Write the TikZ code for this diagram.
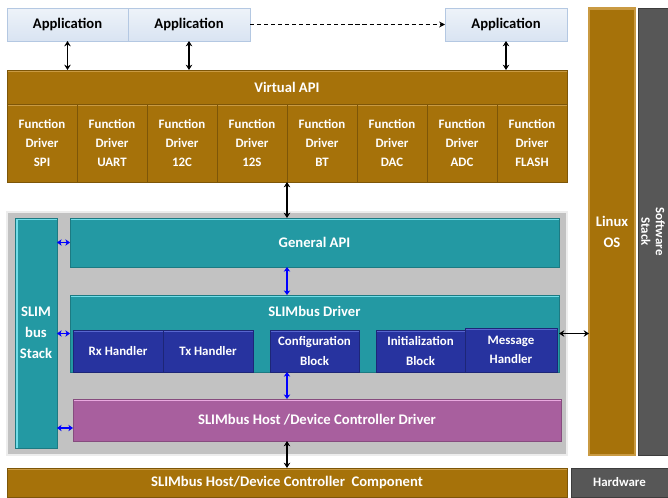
\documentclass[tikz,border=0pt]{standalone}
\usepackage{fontspec}
\setmainfont{Carlito}
\usetikzlibrary{arrows.meta,shadows,calc}

\definecolor{appblue}{HTML}{D9E4F2}
\definecolor{appedge}{HTML}{B4C8E2}
\definecolor{bronze}{HTML}{A6720A}
\definecolor{bronzelight}{HTML}{C99A42}
\definecolor{tealbox}{HTML}{2399A3}
\definecolor{teallight}{HTML}{72DDE8}
\definecolor{navybox}{HTML}{27339F}
\definecolor{navylight}{HTML}{5866CF}
\definecolor{plum}{HTML}{A85F9E}
\definecolor{plumlight}{HTML}{E9A9DF}
\definecolor{panel}{HTML}{C2C2C2}
\definecolor{slate}{HTML}{575757}

\tikzset{
  px/.style 2 args={minimum width=#1*0.03cm, minimum height=#2*0.03cm},
  bigtext/.style={font=\bfseries\fontsize{12.5}{18}\selectfont},
  smalltext/.style={font=\bfseries\fontsize{11}{16.5}\selectfont},
  blk/.style={inner sep=0pt, outer sep=0pt, align=center, text=white, bigtext,
    drop shadow={shadow xshift=1pt, shadow yshift=-1pt, opacity=0.4}},
  tophl/.style={path picture={\fill[#1] (path picture bounding box.north west)
    rectangle ([yshift=-1.6pt]path picture bounding box.north east);}},
  lefthl/.style={path picture={\fill[#1] (path picture bounding box.north west)
    rectangle ([xshift=2.4pt]path picture bounding box.south west);
    \fill[#1] (path picture bounding box.north west)
    rectangle ([yshift=-1.6pt]path picture bounding box.north east);}},
  appbox/.style={blk, text=black, top color=white!55!appblue, bottom color=appblue,
    draw=appedge, line width=0.5pt},
  bronzebox/.style={blk, fill=bronze, draw=bronze!75!black, line width=0.4pt, tophl=bronzelight},
  cellbox/.style={bronzebox, smalltext},
  tealbox/.style={blk, fill=tealbox, draw=tealbox!80!black, line width=0.4pt, tophl=teallight},
  navybox/.style={blk, smalltext, fill=navybox, draw=navybox!75!black, line width=0.4pt, tophl=navylight},
  plumbox/.style={blk, fill=plum, draw=plum!80!black, line width=0.4pt, tophl=plumlight},
  slatebox/.style={blk, fill=slate, draw=slate!70!black, line width=0.4pt},
  dbl/.style={{Stealth[length=4.5pt,width=5.5pt]}-{Stealth[length=4.5pt,width=5.5pt]},
    line width=1.4pt, black},
  bdbl/.style={{Stealth[length=4pt,width=5.5pt]}-{Stealth[length=4pt,width=5.5pt]},
    line width=1.3pt, blue},
}

\begin{document}
\begin{tikzpicture}[x=0.03cm, y=-0.03cm]
\useasboundingbox (0,0) rectangle (668,497);

% applications
\node[appbox, px={121}{33}] (app1) at (67.5,24.5) {Application};
\node[appbox, px={122}{33}] (app2) at (189,24.5) {Application};
\node[appbox, px={122}{33}] (app3) at (506,24.5) {Application};
\draw[dash pattern=on 3.5pt off 2.5pt, line width=1.2pt, -{Stealth[length=5pt,width=5pt]}]
  (app2.east) -- (app3.west);

% virtual API and function drivers
\node[bronzebox, px={560}{34}] (vapi) at (287,87) {};
\node[bigtext, text=white, anchor=center] (vapitxt) at (287,87) {Virtual API};
\foreach \i/\t in {1/SPI,2/UART,3/12C,4/12S,5/BT,6/DAC,7/ADC,8/FLASH}
  \node[cellbox, px={70}{78}] (f\i) at ({42+70*(\i-1)},143) {Function\\Driver\\\t};

\foreach \a in {app1,app2,app3}
  \draw[dbl] (\a.south) -- (\a.south |- vapi.north);

% side columns
\node[bronzebox, px={46}{447}, draw=bronzelight, line width=1pt] (linux) at (612,231.5) {Linux\\OS};
\node[slatebox, px={30}{447}] (sw) at (653,231.5) {};
\node[rotate=-90, text=white, align=center, font=\bfseries\fontsize{11}{12.5}\selectfont]
  (swtxt) at (sw.center) {Software\\Stack};

% SLIMbus stack panel
\node[blk, fill=panel, draw=white!70!panel, line width=1.2pt, px={560}{243}] (stack) at (287,333.5) {};
\node[tealbox, lefthl=teallight, px={42}{230}] (slim) at (36,333) {SLIM\\bus\\Stack};
\node[tealbox, px={489}{49}] (gapi) at (314.5,242.5) {General API};
\node[tealbox, px={489}{77}] (drv) at (314.5,333.5) {};
\node[bigtext, text=white] (drvtxt) at (314.5,311) {SLIMbus Driver};

\node[navybox, px={90}{42}] (rx) at (118,351) {Rx Handler};
\node[navybox, px={90}{42}] (tx) at (208,351) {Tx Handler};
\node[navybox, px={89}{42}] (cfg) at (314.5,351) {Configuration\\Block};
\node[navybox, px={89}{42}] (init) at (420.5,351) {Initialization\\Block};
\node[navybox, px={92}{44}] (msg) at (511,350) {Message\\Handler};

\node[plumbox, px={488}{42}] (host) at (317,420) {SLIMbus Host /Device Controller Driver};

% hardware row
\node[bronzebox, px={560}{29}] (hw) at (287,482.5) {SLIMbus Host/Device Controller\ \ Component};
\node[slatebox, smalltext, px={97}{29}] (hwlbl) at (619.5,482.5) {Hardware};

% connectors
\coordinate (axis) at (f4.south east);
\draw[dbl] (axis) -- (axis |- gapi.north);
\draw[bdbl] (axis |- gapi.south) -- (axis |- drv.north);
\draw[bdbl] (axis |- cfg.south) -- (axis |- host.north);
\draw[dbl] (axis |- host.south) -- (axis |- hw.north);

\draw[bdbl] (gapi.west) -- (gapi.west -| slim.east);
\draw[bdbl] (drv.west) -- (drv.west -| slim.east);
\coordinate (hostlink) at ($(host.west)+(0,8)$);
\draw[bdbl] (hostlink) -- (hostlink -| slim.east);

\draw[dbl] (drv.east) -- (drv.east -| linux.west);
\end{tikzpicture}
\end{document}
